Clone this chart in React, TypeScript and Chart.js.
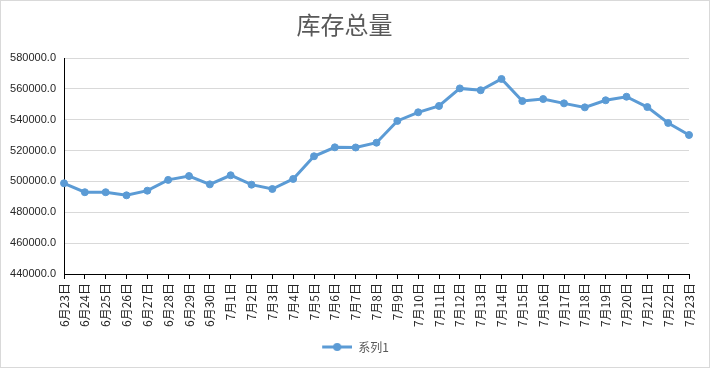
import React, { useEffect, useRef } from "react";
import { Chart, registerables } from "chart.js";

Chart.register(...registerables);

const titleText = "库存总量";
const seriesName = "系列1";
const categories = [
  "6月23日", "6月24日", "6月25日", "6月26日", "6月27日", "6月28日", "6月29日", "6月30日",
  "7月1日", "7月2日", "7月3日", "7月4日", "7月5日", "7月6日", "7月7日", "7月8日",
  "7月9日", "7月10日", "7月11日", "7月12日", "7月13日", "7月14日", "7月15日", "7月16日",
  "7月17日", "7月18日", "7月19日", "7月20日", "7月21日", "7月22日", "7月23日",
];
const values = [
  498800, 493000, 493000, 491000, 494000, 501000, 503500, 498100,
  504000, 497900, 495100, 501600, 516300, 522100, 522000, 525100,
  539200, 544800, 548900, 560300, 559100, 566400, 552100, 553400,
  550600, 548000, 552600, 554900, 548200, 537900, 530100,
];
const yMin = 440000;
const yMax = 580000;
const yStep = 20000;

const LINE_COLOR = "#5b9bd5";
const ICON_MARGIN = 22;

function makeLegendIcon(): HTMLCanvasElement {
  const c = document.createElement("canvas");
  c.width = 30 + ICON_MARGIN;
  c.height = 10;
  const ctx = c.getContext("2d")!;
  ctx.strokeStyle = LINE_COLOR;
  ctx.lineWidth = 3;
  ctx.beginPath();
  ctx.moveTo(ICON_MARGIN, 5);
  ctx.lineTo(ICON_MARGIN + 30, 5);
  ctx.stroke();
  ctx.fillStyle = LINE_COLOR;
  ctx.beginPath();
  ctx.arc(ICON_MARGIN + 15, 5, 4, 0, Math.PI * 2);
  ctx.fill();
  return c;
}

const borderPlugin = {
  id: "outerBorder",
  afterDraw(chart: any) {
    const ctx = chart.ctx;
    ctx.save();
    ctx.strokeStyle = "#d9d9d9";
    ctx.lineWidth = 1;
    ctx.strokeRect(0.5, 0.5, chart.width - 1, chart.height - 1);
    ctx.restore();
  },
};

export default function App() {
  const ref = useRef<HTMLCanvasElement>(null);
  useEffect(() => {
    if (!ref.current) return;
    const icon = makeLegendIcon();
    const chart = new Chart(ref.current, {
      type: "line",
      data: {
        labels: categories,
        datasets: [
          {
            label: seriesName,
            data: values,
            borderColor: LINE_COLOR,
            backgroundColor: LINE_COLOR,
            borderWidth: 3,
            pointRadius: 3.5,
            pointBorderWidth: 1,
            pointBackgroundColor: LINE_COLOR,
            pointBorderColor: LINE_COLOR,
            tension: 0,
          },
        ],
      },
      options: {
        responsive: false,
        animation: false,
        layout: { padding: { left: 0, right: 21, top: 0, bottom: 5 } },
        plugins: {
          title: {
            display: true,
            text: titleText,
            color: "#595959",
            font: { family: "'Noto Sans CJK SC'", size: 24, weight: "normal", lineHeight: 1.2 },
            padding: { top: 10.6, bottom: 18.6 },
          },
          legend: {
            display: true,
            position: "bottom",
            labels: {
              color: "#595959",
              font: { family: "'Noto Sans CJK SC'", size: 12 },
              usePointStyle: true,
              pointStyleWidth: 30 + ICON_MARGIN,
              boxWidth: 30 + ICON_MARGIN,
              boxHeight: 12,
              padding: 10,
              generateLabels: (ch: any) => {
                const items = Chart.defaults.plugins.legend.labels.generateLabels(ch);
                return items.map((it: any) => ({ ...it, pointStyle: icon }));
              },
            },
          },
          tooltip: { enabled: false },
        },
        scales: {
          x: {
            offset: false,
            grid: {
              drawOnChartArea: false,
              drawTicks: true,
              tickLength: 5,
              color: "#000000",
            },
            border: { color: "#000000", width: 1 },
            ticks: {
              autoSkip: false,
              maxRotation: 90,
              minRotation: 90,
              padding: 4,
              color: "#262626",
              font: { family: "'Noto Sans CJK SC'", size: 12 },
            },
            afterFit: (s: any) => {
              s.height = 57;
            },
          },
          y: {
            min: yMin,
            max: yMax,
            grid: { color: "#d9d9d9", drawTicks: false },
            border: { color: "#000000", width: 1 },
            ticks: {
              stepSize: yStep,
              padding: 8,
              color: "#262626",
              font: { family: "'Liberation Sans'", size: 11 },
              callback: (v: any) => Number(v).toFixed(1),
            },
            afterFit: (s: any) => {
              s.width = 64;
            },
          },
        },
      },
      plugins: [borderPlugin],
    });
    return () => chart.destroy();
  }, []);
  return (
    <div style={{ position: "absolute", left: 0, top: 0, width: 710, height: 368, background: "#fff" }}>
      <canvas ref={ref} width={710} height={368} style={{ width: 710, height: 368, display: "block" }} />
    </div>
  );
}
